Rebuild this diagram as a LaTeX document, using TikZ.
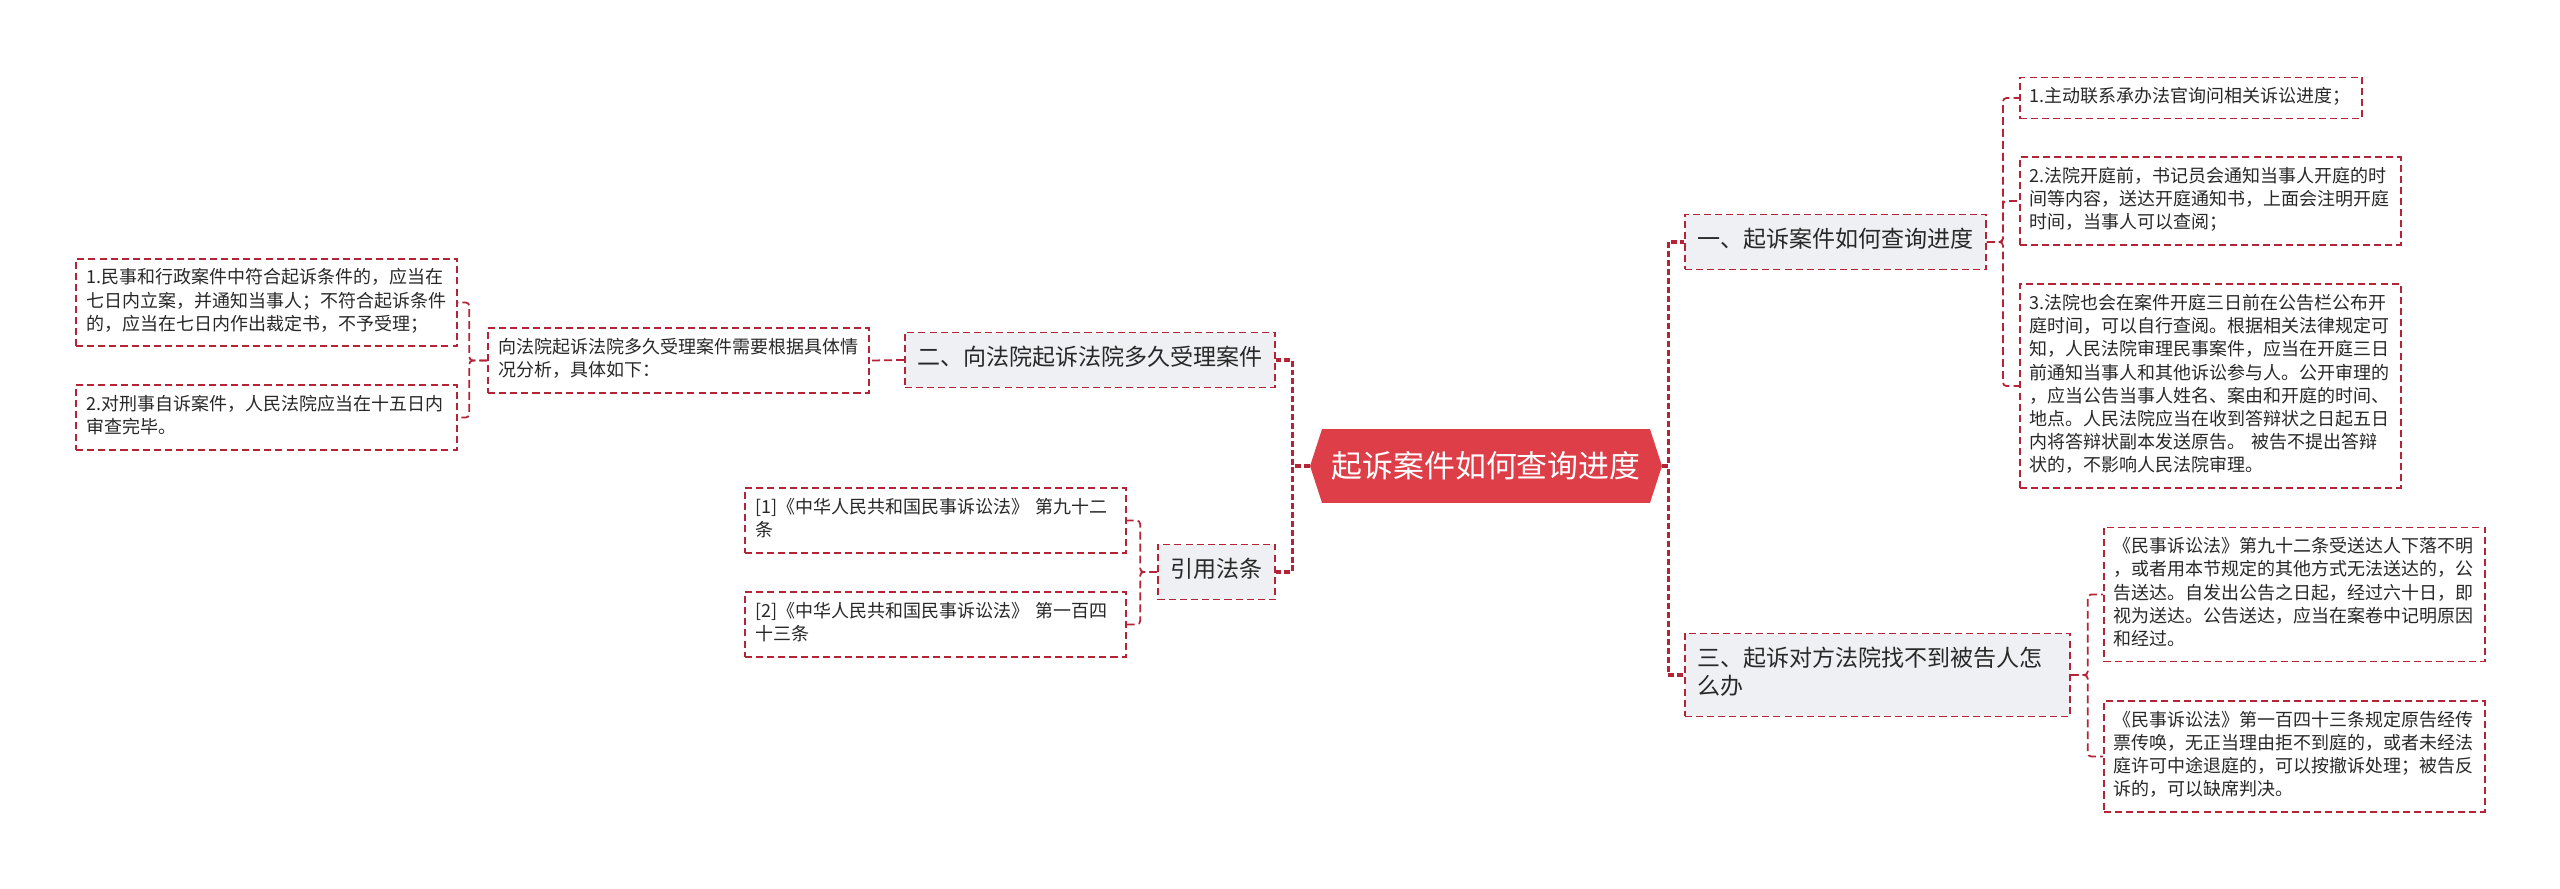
\documentclass[tikz,border=0pt]{standalone}
\usepackage{fontspec}
\setmainfont{Noto Sans CJK SC}
\usetikzlibrary{shapes.symbols}
\definecolor{linered}{RGB}{180,36,54}
\definecolor{rootred}{RGB}{221,62,72}
\definecolor{branchgray}{RGB}{238,240,244}
\definecolor{textgray}{RGB}{40,40,40}
\newcommand{\leaffont}{\fontsize{10.24pt}{13.2pt}\selectfont}
\newcommand{\branchfont}{\fontsize{13.1pt}{15.9pt}\selectfont}
\newcommand{\rootfont}{\fontsize{17.6pt}{21pt}\selectfont}
\begin{document}
\begin{tikzpicture}[x=0.02cm,y=-0.02cm,
  root/.style={signal,signal to=west and east,signal pointer angle=144,fill=rootred,text=white,font=\rootfont,minimum width=7.04cm,minimum height=1.48cm,inner sep=0pt},
  branch/.style={draw=linered,dash pattern=on 4pt off 2.3pt,line width=1pt,fill=branchgray,text=textgray,font=\branchfont,align=left,inner xsep=0.25cm,inner ysep=0.27cm,execute at begin node=\strut,execute at end node=\strut},
  leaf/.style={draw=linered,dash pattern=on 4pt off 2.3pt,line width=1pt,fill=white,text=textgray,font=\leaffont,text width=7.22cm,align=left,inner xsep=0.2cm,inner ysep=0.18cm,execute at begin node=\strut,execute at end node=\strut},
  trunk/.style={draw=linered,line width=1.8pt,dash pattern=on 3.4pt off 1.7pt},
  twig/.style={draw=linered,line width=1pt,dash pattern=on 4.5pt off 2.3pt,rounded corners=2pt}]
\useasboundingbox (0,0) rectangle (2560,889);

\node[root] (root) at (1486,466) {起诉案件如何查询进度};

\node[branch,anchor=west] (b1) at (1684,242) {一、起诉案件如何查询进度};
\node[branch,anchor=west,text width=7.2cm] (b3) at (1684,675) {三、起诉对方法院找不到被告人怎\\么办};
\node[branch,anchor=east] (b2) at (1276,360) {二、向法院起诉法院多久受理案件};
\node[branch,anchor=east] (cite) at (1276,572) {引用法条};

\node[leaf,anchor=west,text width=6.44cm] (a1) at (2019,98) {1.主动联系承办法官询问相关诉讼进度；};
\node[leaf,anchor=west] (a2) at (2019,201) {2.法院开庭前，书记员会通知当事人开庭的时\\间等内容，送达开庭通知书，上面会注明开庭\\时间，当事人可以查阅；};
\node[leaf,anchor=west] (a3) at (2019,386) {3.法院也会在案件开庭三日前在公告栏公布开\\庭时间，可以自行查阅。根据相关法律规定可\\知，人民法院审理民事案件，应当在开庭三日\\前通知当事人和其他诉讼参与人。公开审理的\\，应当公告当事人姓名、案由和开庭的时间、\\地点。人民法院应当在收到答辩状之日起五日\\内将答辩状副本发送原告。 被告不提出答辩\\状的，不影响人民法院审理。};

\node[leaf,anchor=west] (c1) at (2103,594.5) {《民事诉讼法》第九十二条受送达人下落不明\\，或者用本节规定的其他方式无法送达的，公\\告送达。自发出公告之日起，经过六十日，即\\视为送达。公告送达，应当在案卷中记明原因\\和经过。};
\node[leaf,anchor=west] (c2) at (2103,756.5) {《民事诉讼法》第一百四十三条规定原告经传\\票传唤，无正当理由拒不到庭的，或者未经法\\庭许可中途退庭的，可以按撤诉处理；被告反\\诉的，可以缺席判决。};

\node[leaf,anchor=east] (q) at (870,360.5) {向法院起诉法院多久受理案件需要根据具体情\\况分析，具体如下：};
\node[leaf,anchor=east] (q1) at (458,302.5) {1.民事和行政案件中符合起诉条件的，应当在\\七日内立案，并通知当事人；不符合起诉条件\\的，应当在七日内作出裁定书，不予受理；};
\node[leaf,anchor=east] (q2) at (458,417.5) {2.对刑事自诉案件，人民法院应当在十五日内\\审查完毕。};

\node[leaf,anchor=east] (r1) at (1127,520.5) {[1]《中华人民共和国民事诉讼法》 第九十二\\条};
\node[leaf,anchor=east] (r2) at (1127,624.5) {[2]《中华人民共和国民事诉讼法》 第一百四\\十三条};

\draw[trunk] (root.east) -- ++(6,0) |- (b1.west);
\draw[trunk] (root.east) -- ++(6,0) |- (b3.west);
\draw[trunk] (root.west) -- ++(-17,0) |- (b2.east);
\draw[trunk] (root.west) -- ++(-17,0) |- (cite.east);

\draw[twig] (b1.east) -- ++(16,0) |- (a1.west);
\draw[twig] (b1.east) -- ++(16,0) |- (a2.west);
\draw[twig] (b1.east) -- ++(16,0) |- (a3.west);
\draw[twig] (b3.east) -- ++(17,0) |- (c1.west);
\draw[twig] (b3.east) -- ++(17,0) |- (c2.west);
\draw[twig] (b2.west) -- (q.east);
\draw[twig] (q.west) -- ++(-18,0) |- (q1.east);
\draw[twig] (q.west) -- ++(-18,0) |- (q2.east);
\draw[twig] (cite.west) -- ++(-17,0) |- (r1.east);
\draw[twig] (cite.west) -- ++(-17,0) |- (r2.east);
\end{tikzpicture}
\end{document}
